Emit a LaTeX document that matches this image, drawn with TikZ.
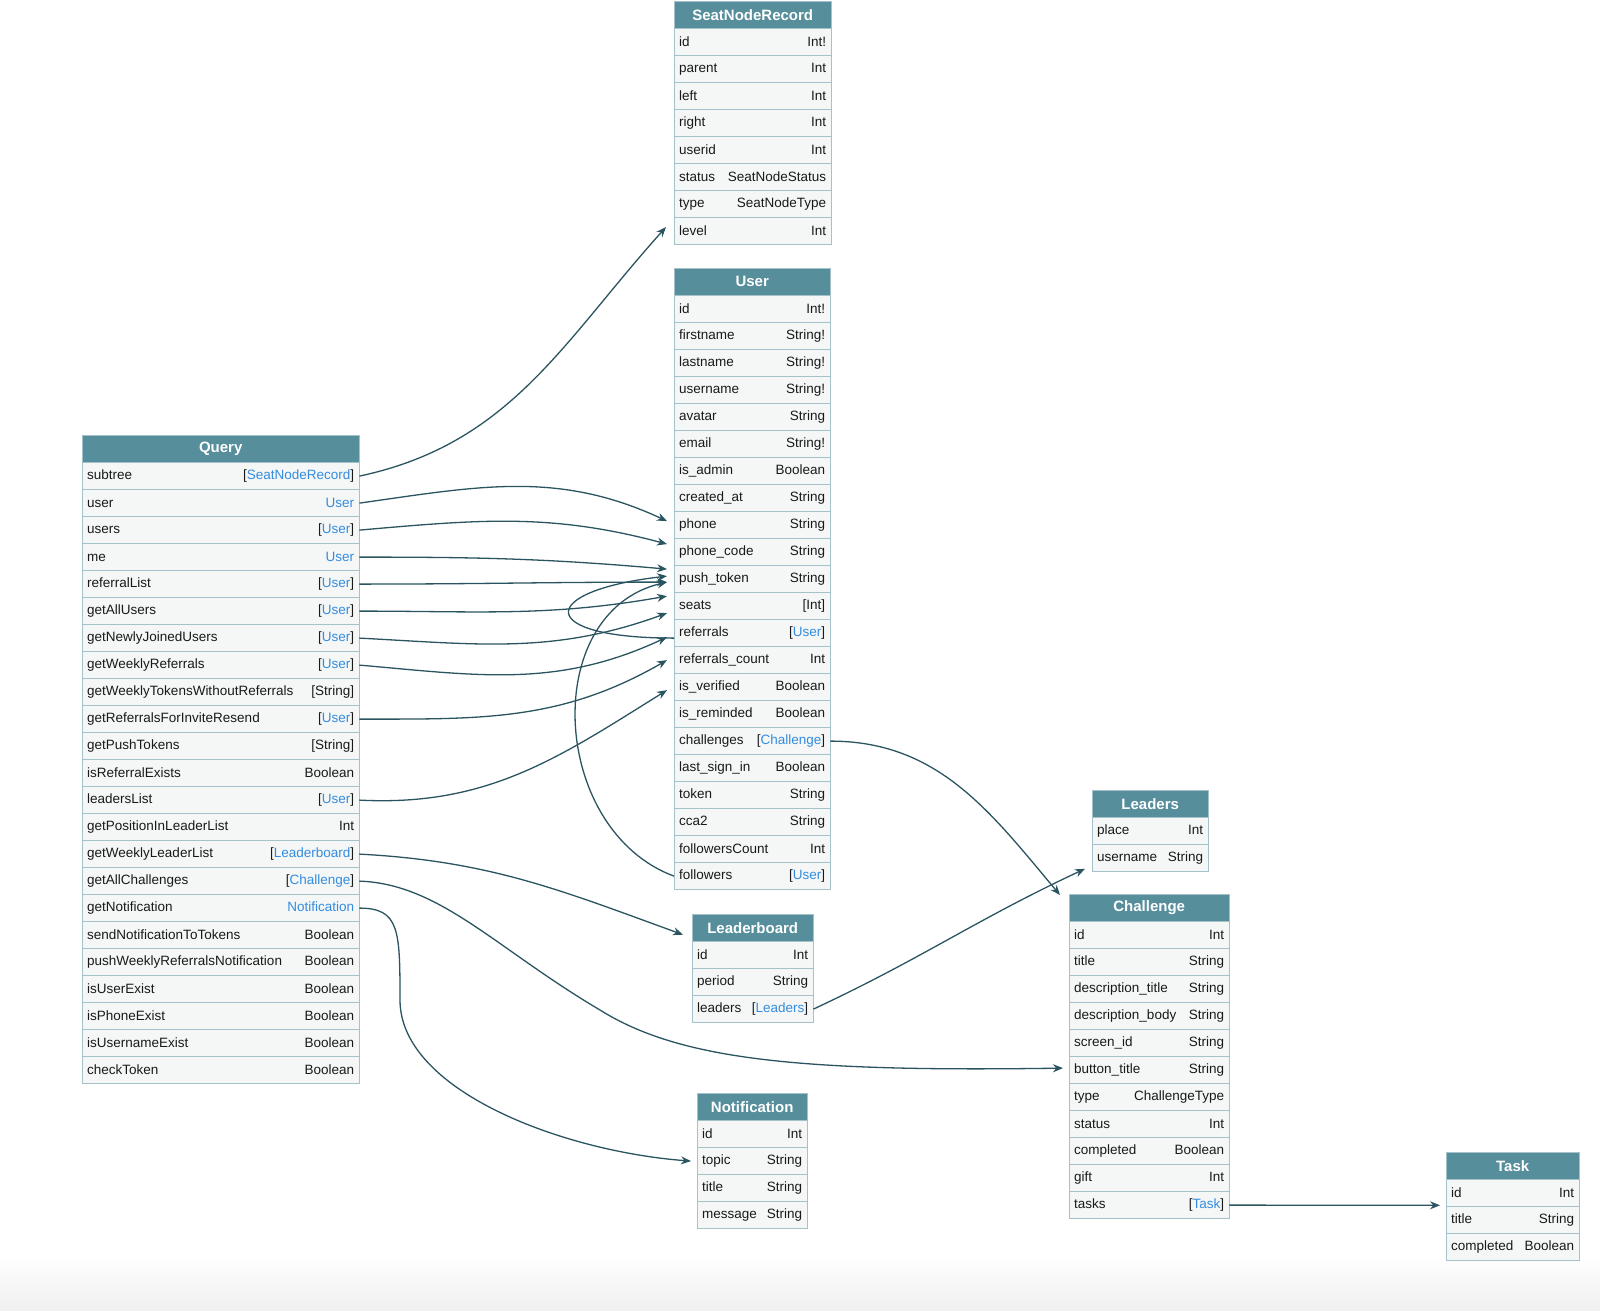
\documentclass[tikz,border=0pt]{standalone}
\usepackage{fontspec}
\setmainfont{Liberation Sans}
\usetikzlibrary{arrows.meta}
\definecolor{headfill}{RGB}{86,142,155}
\definecolor{rowfill}{RGB}{245,247,247}
\definecolor{rowline}{RGB}{165,194,202}
\definecolor{edgecol}{RGB}{42,84,96}
\definecolor{linkblue}{RGB}{52,140,222}
\newcommand{\lnk}[1]{\textcolor{linkblue}{#1}}

\begin{document}
\begin{tikzpicture}[x=1pt,y=-1pt,
  head/.style={draw=rowline,fill=headfill,text=white,font=\fontsize{15}{18}\selectfont\bfseries,minimum height=27pt,inner sep=0pt,anchor=north west},
  row/.style={draw=rowline,fill=rowfill,text=black!90,font=\fontsize{13.5}{16}\selectfont,minimum height=27pt,inner xsep=5pt,inner ysep=0pt,text width=#1,anchor=north west},
  link/.style={draw=edgecol,line width=1.3pt,-{Stealth[length=10pt,width=8pt]}}]
  \useasboundingbox (0,0) rectangle (1600,1311);
  \shade[top color=white,bottom color=black!6] (0,1255) rectangle (1600,1311);

  % Query
  \node[head,minimum width=277pt] (q-h) at (82,435) {Query};
  \foreach \fname/\ftype [count=\i] in {subtree/{[\lnk{SeatNodeRecord}]}, user/\lnk{User}, users/{[\lnk{User}]}, me/\lnk{User}, referralList/{[\lnk{User}]}, getAllUsers/{[\lnk{User}]}, getNewlyJoinedUsers/{[\lnk{User}]}, getWeeklyReferrals/{[\lnk{User}]}, getWeeklyTokensWithoutReferrals/{[String]}, getReferralsForInviteResend/{[\lnk{User}]}, getPushTokens/{[String]}, isReferralExists/Boolean, leadersList/{[\lnk{User}]}, getPositionInLeaderList/Int, getWeeklyLeaderList/{[\lnk{Leaderboard}]}, getAllChallenges/{[\lnk{Challenge}]}, getNotification/\lnk{Notification}, sendNotificationToTokens/Boolean, pushWeeklyReferralsNotification/Boolean, isUserExist/Boolean, isPhoneExist/Boolean, isUsernameExist/Boolean, checkToken/Boolean}
    \node[row=267pt] (q-\i) at ([yshift={-27*(\i-1)}]q-h.south west) {\fname\hfill\ftype};

  % SeatNodeRecord
  \node[head,minimum width=157pt] (s-h) at (674,1) {SeatNodeRecord};
  \foreach \fname/\ftype [count=\i] in {id/Int!, parent/Int, left/Int, right/Int, userid/Int, status/SeatNodeStatus, type/SeatNodeType, level/Int}
    \node[row=147pt] (s-\i) at ([yshift={-27*(\i-1)}]s-h.south west) {\fname\hfill\ftype};

  % User
  \node[head,minimum width=156pt] (u-h) at (674,268) {User};
  \foreach \fname/\ftype [count=\i] in {id/Int!, firstname/String!, lastname/String!, username/String!, avatar/String, email/String!, is\_admin/Boolean, created\_at/String, phone/String, phone\_code/String, push\_token/String, seats/{[Int]}, referrals/{[\lnk{User}]}, referrals\_count/Int, is\_verified/Boolean, is\_reminded/Boolean, challenges/{[\lnk{Challenge}]}, last\_sign\_in/Boolean, token/String, cca2/String, followersCount/Int, followers/{[\lnk{User}]}}
    \node[row=146pt] (u-\i) at ([yshift={-27*(\i-1)}]u-h.south west) {\fname\hfill\ftype};

  % Leaderboard
  \node[head,minimum width=121pt] (lb-h) at (692,914) {Leaderboard};
  \foreach \fname/\ftype [count=\i] in {id/Int, period/String, leaders/{[\lnk{Leaders}]}}
    \node[row=111pt] (lb-\i) at ([yshift={-27*(\i-1)}]lb-h.south west) {\fname\hfill\ftype};

  % Leaders
  \node[head,minimum width=116pt] (ld-h) at (1092,790) {Leaders};
  \foreach \fname/\ftype [count=\i] in {place/Int, username/String}
    \node[row=106pt] (ld-\i) at ([yshift={-27*(\i-1)}]ld-h.south west) {\fname\hfill\ftype};

  % Challenge
  \node[head,minimum width=160pt] (c-h) at (1069,894) {Challenge};
  \foreach \fname/\ftype [count=\i] in {id/Int, title/String, description\_title/String, description\_body/String, screen\_id/String, button\_title/String, type/ChallengeType, status/Int, completed/Boolean, gift/Int, tasks/{[\lnk{Task}]}}
    \node[row=150pt] (c-\i) at ([yshift={-27*(\i-1)}]c-h.south west) {\fname\hfill\ftype};

  % Notification
  \node[head,minimum width=110pt] (n-h) at (697,1093) {Notification};
  \foreach \fname/\ftype [count=\i] in {id/Int, topic/String, title/String, message/String}
    \node[row=100pt] (n-\i) at ([yshift={-27*(\i-1)}]n-h.south west) {\fname\hfill\ftype};

  % Task
  \node[head,minimum width=133pt] (t-h) at (1446,1152) {Task};
  \foreach \fname/\ftype [count=\i] in {id/Int, title/String, completed/Boolean}
    \node[row=123pt] (t-\i) at ([yshift={-27*(\i-1)}]t-h.south west) {\fname\hfill\ftype};

  % Query -> types
  \draw[link] (q-1.east) to[out=12,in=228] ([xshift=-8pt,yshift=4pt]s-8.west);
  \draw[link] (q-2.east) to[out=8,in=155] ([xshift=-7pt,yshift=4pt]u-9.west);
  \draw[link] (q-3.east) to[out=5,in=165] ([xshift=-7pt,yshift=8pt]u-10.west);
  \draw[link] (q-4.east) to[out=0,in=175] ([xshift=-7pt,yshift=10pt]u-11.west);
  \draw[link] (q-5.east) to[out=0,in=180] ([xshift=-7pt,yshift=-3pt]u-11.west);
  \draw[link] (q-6.east) to[out=0,in=190] ([xshift=-7pt,yshift=10pt]u-12.west);
  \draw[link] (q-7.east) to[out=-3,in=200] ([xshift=-7pt,yshift=-7pt]u-12.west);
  \draw[link] (q-8.east) to[out=-5,in=205] ([xshift=-7pt,yshift=-4pt]u-13.west);
  \draw[link] (q-10.east) to[out=0,in=210] ([xshift=-7pt]u-14.west);
  \draw[link] (q-13.east) to[out=-3,in=212] ([xshift=-7pt,yshift=-3pt]u-15.west);
  \draw[link] (q-15.east) to[out=-3,in=160] ([xshift=-9pt,yshift=-7pt]lb-h.west);
  \draw[link] (q-16.east) .. controls (440,884) and (495,948) .. (600,1010)
    .. controls (680,1060) and (800,1072) .. ([xshift=-6pt,yshift=2pt]c-6.west);
  \draw[link] (q-17.east) .. controls +(40,0) and +(0,-70) .. (400,1000)
    .. controls +(0,90) and +(-130,-10) .. ([xshift=-6pt]n-2.west);

  % User self links
  \draw[link] ([yshift=-5pt]u-13.west) .. controls +(-140,0) and +(-130,15) .. ([xshift=-7pt,yshift=3pt]u-11.west);
  \draw[link] (u-22.west) .. controls +(-124,-46) and +(-128,30) .. ([xshift=-7pt,yshift=-3pt]u-11.west);

  % other types
  \draw[link] (u-17.east) to[out=0,in=130] ([xshift=-9pt,yshift=-1pt]c-h.north west);
  \draw[link] (lb-3.east) to[out=25,in=205] ([xshift=-7pt,yshift=3pt]ld-2.south west);
  \draw[link] (c-11.east) -- ([xshift=-6pt,yshift=1.5pt]t-1.south west);
\end{tikzpicture}
\end{document}
